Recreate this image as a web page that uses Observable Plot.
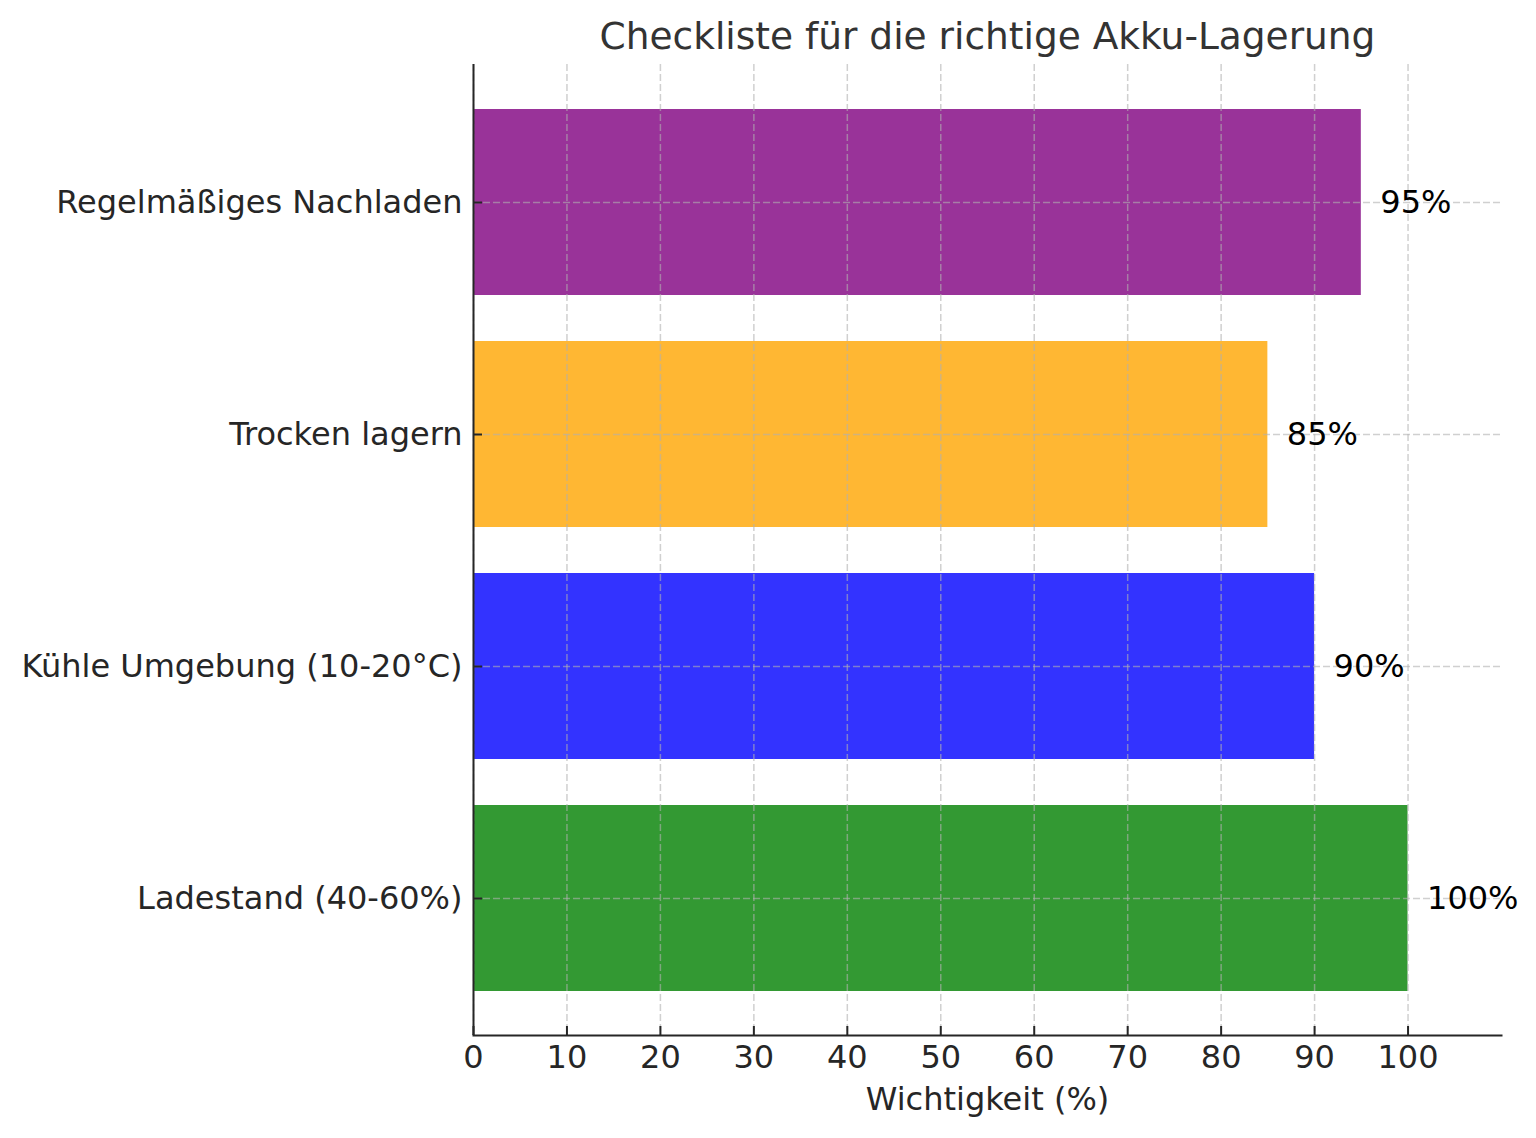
<!DOCTYPE html>
<html><head><meta charset="utf-8">
<script src="https://cdn.jsdelivr.net/npm/d3@7"></script>
<script src="https://cdn.jsdelivr.net/npm/@observablehq/plot@0.6"></script>
<style>body{margin:0;background:#fff}</style>
</head><body><div id="chart"></div>
<script>
const categories = ["Ladestand (40-60%)", "Kühle Umgebung (10-20°C)", "Trocken lagern", "Regelmäßiges Nachladen"];
const values = [100, 90, 85, 95];
const colors = ["#339933", "#3333ff", "#ffb733", "#993399"];
const valueLabels = ["100%", "90%", "85%", "95%"];
const xTicks = [0, 10, 20, 30, 40, 50, 60, 70, 80, 90, 100];
const title = "Checkliste für die richtige Akku-Lagerung";
const xLabel = "Wichtigkeit (%)";

const data = categories.map((c, i) => ({category: c, value: values[i], color: colors[i], label: valueLabels[i]}));

const W = 1536, H = 1138, mL = 473, mR = 35, mT = 64, mB = 103;
const frameW = W - mL - mR, frameH = H - mT - mB;
const tickLen = 9;
const spine = "#262626";
const grid = {stroke: "#b0b0b0", strokeOpacity: 0.6, strokeWidth: 1.5, strokeDasharray: "7,3"};
const fs = 32;

const chart = Plot.plot({
  width: W, height: H, marginLeft: mL, marginRight: mR, marginTop: mT, marginBottom: mB,
  style: {fontFamily: "'DejaVu Sans', sans-serif", fontSize: fs + "px", color: "#262626", background: "#fff"},
  x: {domain: [0, 110]},
  y: {domain: categories.slice().reverse(), paddingInner: 0.2, paddingOuter: 0.19, align: 0.5},
  marks: [
    Plot.barX(data, {x: "value", y: "category", fill: "color"}),
    Plot.gridX(xTicks, grid),
    Plot.gridY(categories, grid),
    Plot.ruleX(xTicks, {stroke: spine, strokeWidth: 2, insetTop: frameH - tickLen}),
    Plot.ruleY(categories, {stroke: spine, strokeWidth: 2, insetRight: frameW - tickLen}),
    Plot.ruleX([0], {stroke: spine, strokeWidth: 2}),
    Plot.frame({anchor: "bottom", stroke: spine, strokeWidth: 2}),
    Plot.axisX(xTicks, {tickSize: 0, tickPadding: 10, label: null, fontSize: fs}),
    Plot.axisY({tickSize: 0, tickPadding: 11, label: null, fontSize: fs}),
    Plot.text(data, {x: "value", y: "category", text: "label", dx: 19, textAnchor: "start", fill: "#000", fontSize: fs}),
    Plot.text([xLabel], {text: d => d, frameAnchor: "bottom", lineAnchor: "middle", dy: 64, fontSize: fs, fill: "#262626"}),
    Plot.text([title], {text: d => d, frameAnchor: "top", lineAnchor: "middle", dy: -28, fontSize: 37.5, fill: "#333"})
  ]
});
document.getElementById("chart").appendChild(chart);
</script>
</body></html>
